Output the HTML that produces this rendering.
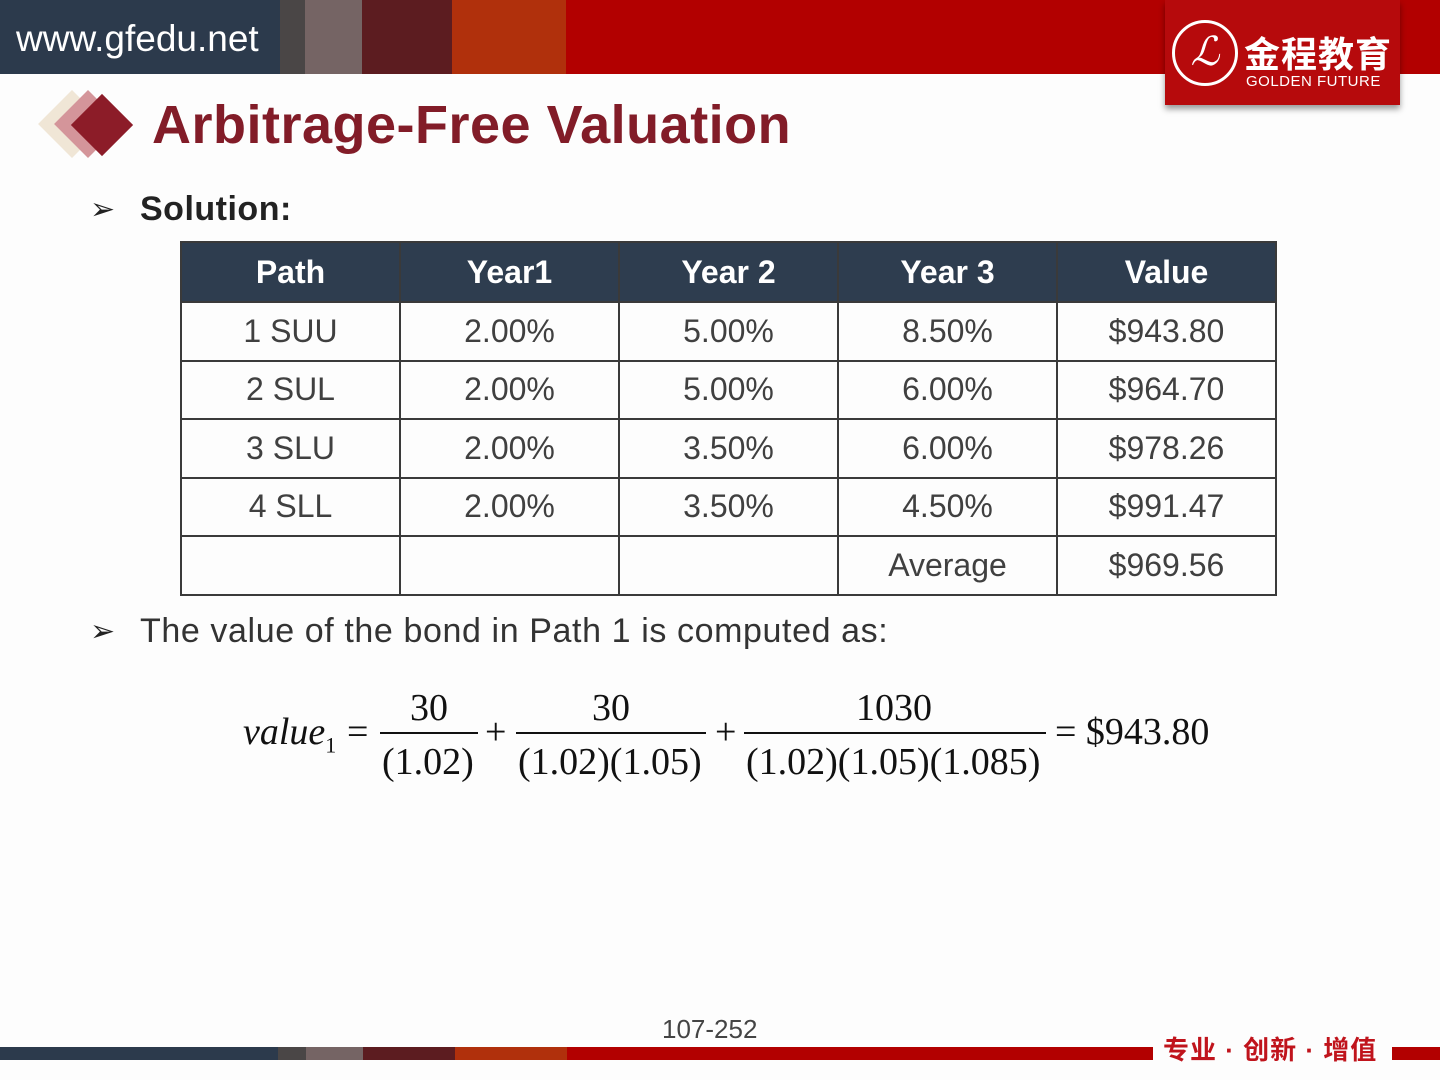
<!DOCTYPE html>
<html><head><meta charset="utf-8"><style>
*{margin:0;padding:0;box-sizing:border-box}
body{width:1440px;height:1080px;background:#fdfdfd;position:relative;overflow:hidden;font-family:"Liberation Sans","Noto Sans CJK SC",sans-serif}
.a{position:absolute}
table{position:absolute;left:180px;top:241px;border-collapse:collapse;font-size:32px;color:#404040}
td,th{border:2px solid #3a3a3a;width:219px;text-align:center;height:58.5px}
th{background:#2e3d4f;color:#fff;height:60px;font-weight:bold;font-size:32px}
.m{font-family:"Liberation Serif",serif;color:#111;font-size:38px}
</style></head><body>
<div class="a" style="left:0;top:0;width:280px;height:74px;background:#2c3a4c"></div>
<div class="a" style="left:280px;top:0;width:25px;height:74px;background:#4a4646"></div>
<div class="a" style="left:305px;top:0;width:57px;height:74px;background:#756464"></div>
<div class="a" style="left:362px;top:0;width:90px;height:74px;background:#5c1c20"></div>
<div class="a" style="left:452px;top:0;width:114px;height:74px;background:#b0300c"></div>
<div class="a" style="left:566px;top:0;width:874px;height:74px;background:#b20000"></div>
<div class="a" style="left:16px;top:18px;color:#fff;font-size:37px">www.gfedu.net</div>
<div class="a" style="left:1165px;top:0;width:235px;height:105px;background:#b60a0c;box-shadow:0 4px 6px rgba(0,0,0,.4)"></div>
<div class="a" style="left:1172px;top:20px;width:66px;height:66px;border:3px solid #fff;border-radius:50%;color:#fff;font:italic 40px 'Liberation Serif',serif;text-align:center;line-height:58px">ℒ</div>
<div class="a" style="left:1244px;top:26px;color:#fff;font-size:36px;font-weight:bold;letter-spacing:1px">金程教育</div>
<div class="a" style="left:1246px;top:73px;color:#fff;font-size:15px;letter-spacing:0.5px">GOLDEN FUTURE</div>
<div class="a" style="left:48px;top:100px;width:48px;height:48px;background:#f0e6d6;transform:rotate(45deg)"></div>
<div class="a" style="left:64px;top:100px;width:48px;height:48px;background:#d4959a;transform:rotate(45deg)"></div>
<div class="a" style="left:80px;top:103px;width:44px;height:44px;background:#8c1c28;transform:rotate(45deg)"></div>
<div class="a" style="left:152px;top:94px;color:#821c28;font-size:54px;font-weight:bold;letter-spacing:0.5px">Arbitrage-Free Valuation</div>
<div class="a" style="left:90px;top:192px;font-size:30px;color:#222">➢</div>
<div class="a" style="left:140px;top:190px;font-size:34px;font-weight:bold;color:#222;letter-spacing:0.5px">Solution:</div>
<table>
<tr><th>Path</th><th>Year1</th><th>Year 2</th><th>Year 3</th><th>Value</th></tr>
<tr><td>1 SUU</td><td>2.00%</td><td>5.00%</td><td>8.50%</td><td>$943.80</td></tr>
<tr><td>2 SUL</td><td>2.00%</td><td>5.00%</td><td>6.00%</td><td>$964.70</td></tr>
<tr><td>3 SLU</td><td>2.00%</td><td>3.50%</td><td>6.00%</td><td>$978.26</td></tr>
<tr><td>4 SLL</td><td>2.00%</td><td>3.50%</td><td>4.50%</td><td>$991.47</td></tr>
<tr><td></td><td></td><td></td><td>Average</td><td>$969.56</td></tr>
</table>
<div class="a" style="left:90px;top:614px;font-size:30px;color:#222">➢</div>
<div class="a" style="left:140px;top:612px;font-size:34px;color:#333;letter-spacing:0.6px">The value of the bond in Path 1 is computed as:</div>
<div class="a m" style="left:243px;top:710px;font-style:italic">value<sub style="font-size:22px;font-style:normal">1</sub></div>
<div class="a m" style="left:347px;top:710px">=</div>
<div class="a m" style="left:410px;top:686px">30</div>
<div class="a" style="left:380px;top:732px;width:98px;height:2px;background:#111"></div>
<div class="a m" style="left:382px;top:740px">(1.02)</div>
<div class="a m" style="left:485px;top:710px">+</div>
<div class="a m" style="left:592px;top:686px">30</div>
<div class="a" style="left:516px;top:732px;width:190px;height:2px;background:#111"></div>
<div class="a m" style="left:518px;top:740px">(1.02)(1.05)</div>
<div class="a m" style="left:715px;top:710px">+</div>
<div class="a m" style="left:856px;top:686px">1030</div>
<div class="a" style="left:744px;top:732px;width:302px;height:2px;background:#111"></div>
<div class="a m" style="left:746px;top:740px">(1.02)(1.05)(1.085)</div>
<div class="a m" style="left:1055px;top:710px">= $943.80</div>
<div class="a" style="left:662px;top:1014px;font-size:26px;color:#444">107-252</div>
<div class="a" style="left:0;top:1047px;width:278px;height:13px;background:#2c3a4c"></div>
<div class="a" style="left:278px;top:1047px;width:28px;height:13px;background:#4a4646"></div>
<div class="a" style="left:306px;top:1047px;width:57px;height:13px;background:#756464"></div>
<div class="a" style="left:363px;top:1047px;width:92px;height:13px;background:#5c1c20"></div>
<div class="a" style="left:455px;top:1047px;width:112px;height:13px;background:#b0300c"></div>
<div class="a" style="left:567px;top:1047px;width:586px;height:13px;background:#b20000"></div>
<div class="a" style="left:1392px;top:1047px;width:48px;height:13px;background:#b20000"></div>
<div class="a" style="left:1163px;top:1030px;font-size:26px;font-weight:bold;color:#c0141c;letter-spacing:1px">专业 · 创新 · 增值</div>
</body></html>
